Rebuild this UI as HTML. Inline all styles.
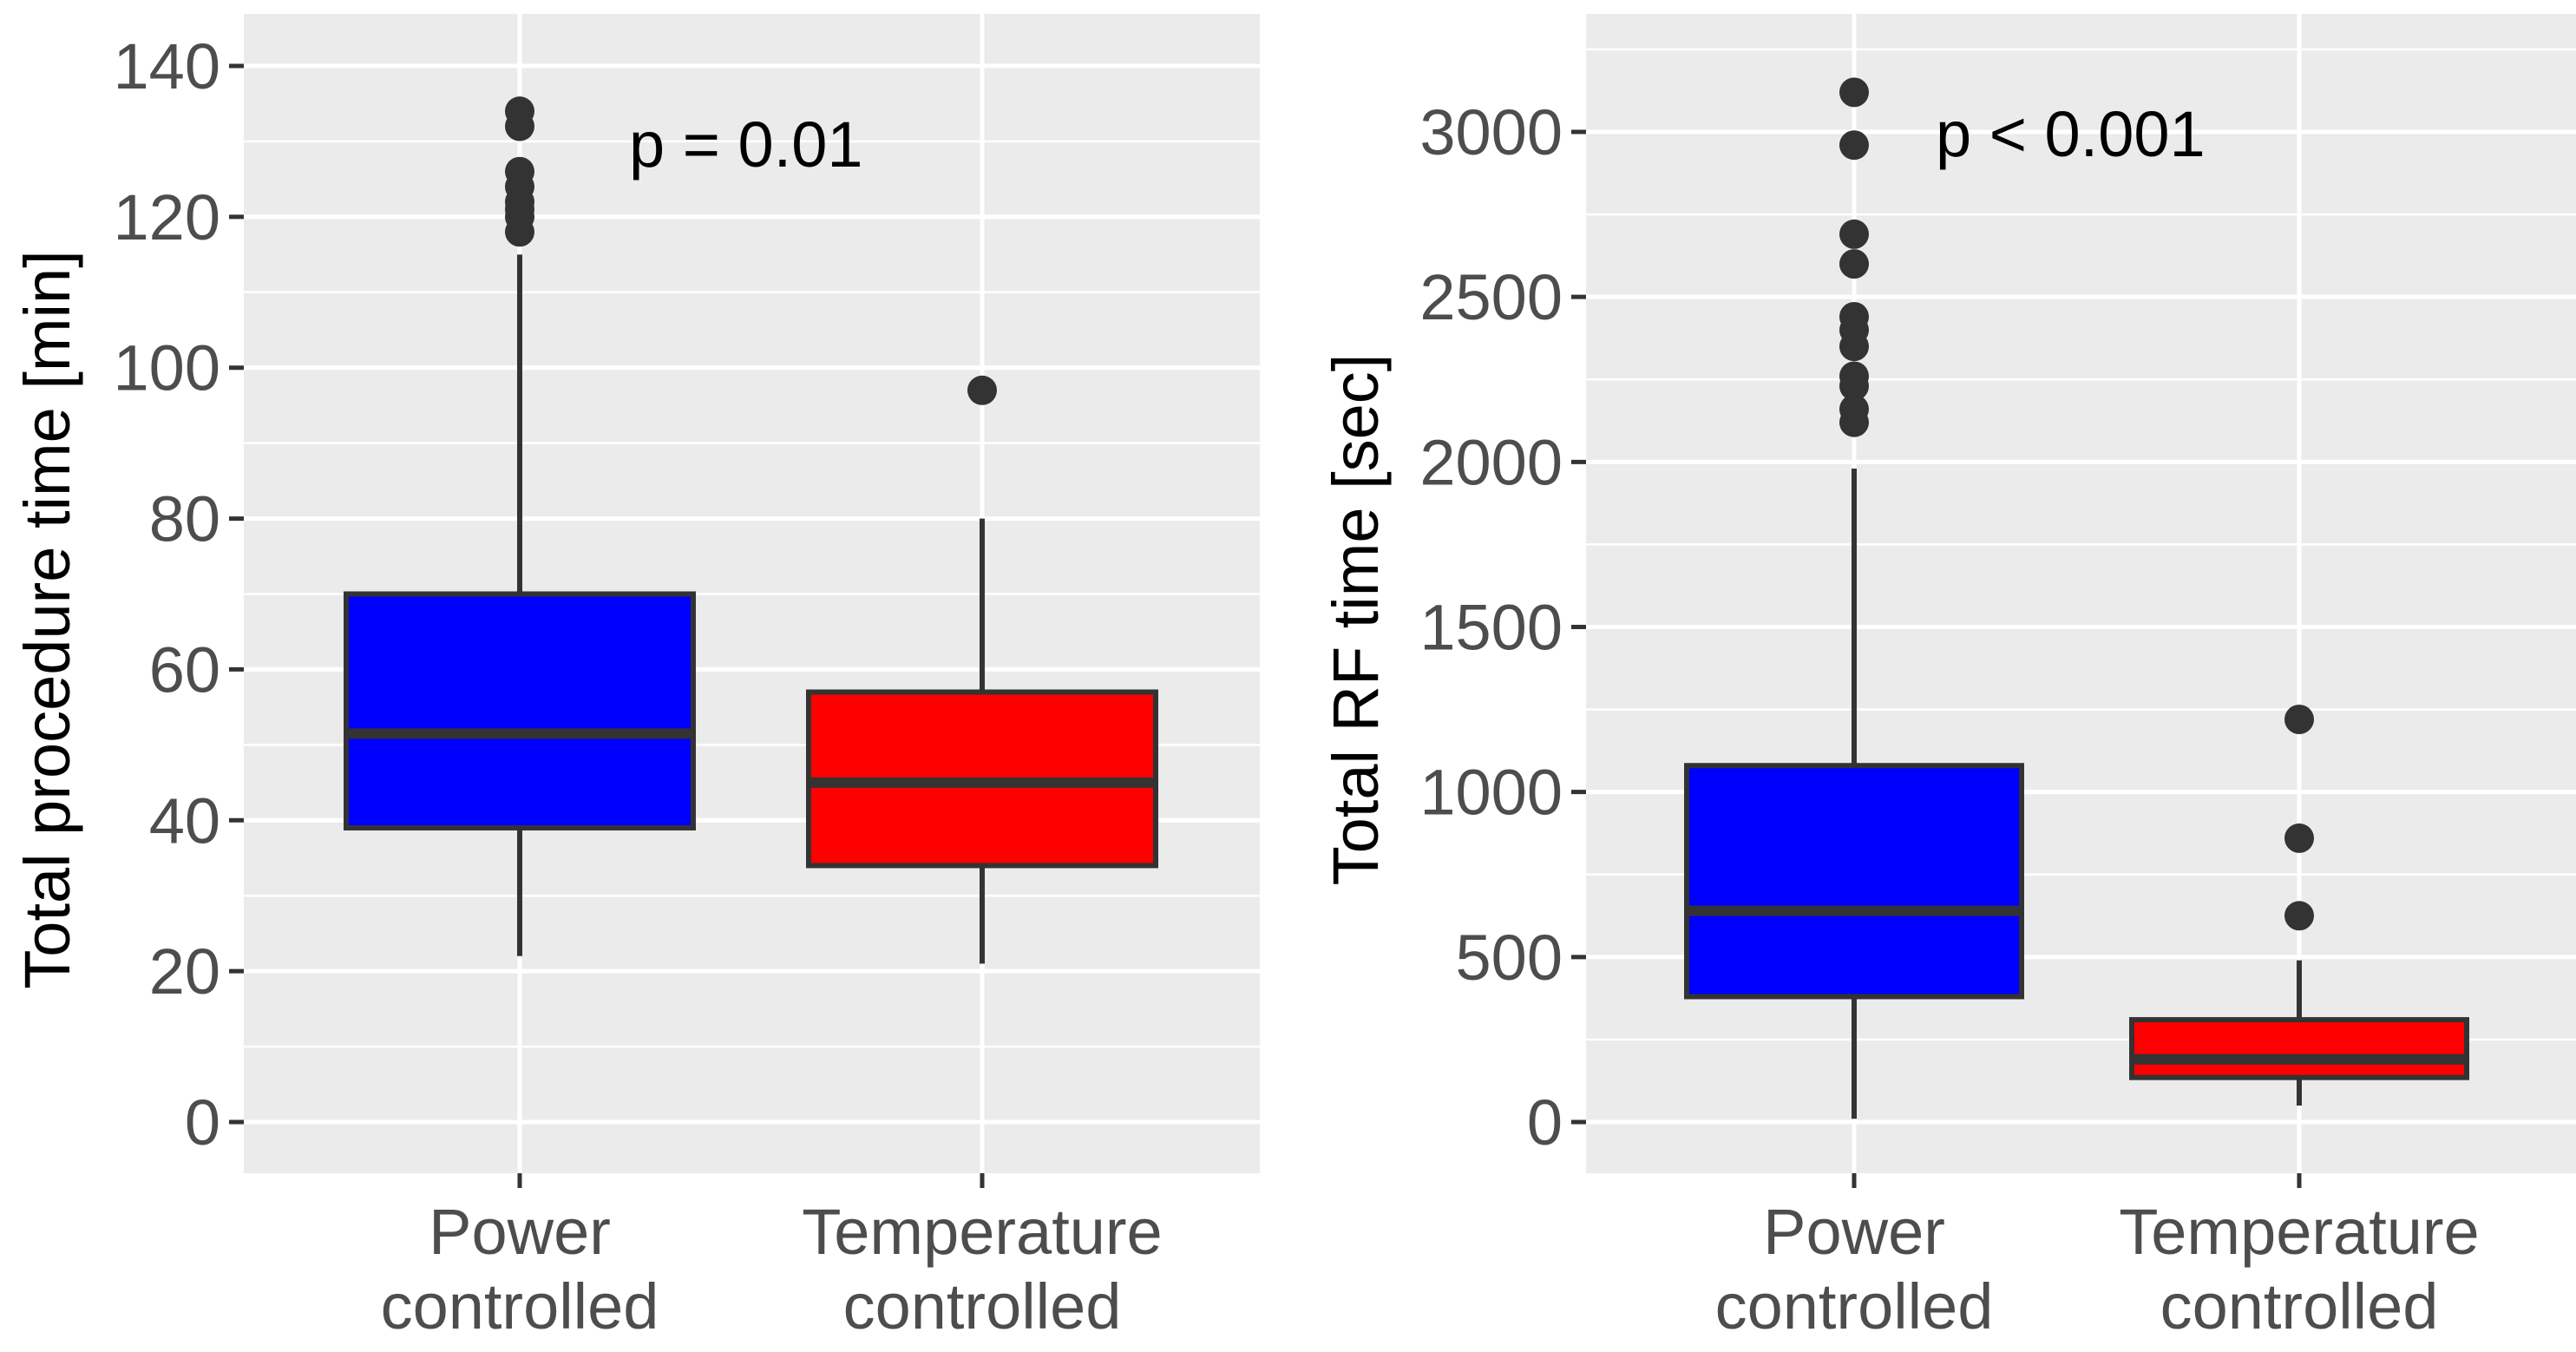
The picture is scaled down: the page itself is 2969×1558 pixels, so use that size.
<!DOCTYPE html>
<html><head><meta charset="utf-8"><style>
html,body{margin:0;padding:0;background:#fff;}
svg{display:block;font-family:"Liberation Sans",Arial,sans-serif;}
</style></head><body>
<svg id="chart" width="2969" height="1558" viewBox="0 0 2969 1558" xmlns="http://www.w3.org/2000/svg"></svg>
<script>
// ---- data ----
const categories = ["Power controlled", "Temperature controlled"];
const colors = ["#0000ff", "#ff0000"];
// left panel: procedure time [min]
const procLower = [22, 21];
const procQ1 = [39, 34];
const procMedian = [51.5, 45];
const procQ3 = [70, 57];
const procUpper = [115, 80];
const procOutPower = [118, 120, 121, 122, 124, 126, 132, 134];
const procOutTemp = [97];
const procTicks = [0, 20, 40, 60, 80, 100, 120, 140];
// right panel: RF time [sec]
const rfLower = [10, 50];
const rfQ1 = [380, 135];
const rfMedian = [640, 190];
const rfQ3 = [1080, 310];
const rfUpper = [1980, 490];
const rfOutPower = [2120, 2160, 2230, 2260, 2350, 2400, 2440, 2600, 2690, 2960, 3120];
const rfOutTemp = [625, 860, 1220];
const rfTicks = [0, 500, 1000, 1500, 2000, 2500, 3000];

const NS = "http://www.w3.org/2000/svg";
const svg = document.getElementById("chart");
function mk(tag, attrs, parent) {
  const e = document.createElementNS(NS, tag);
  for (const k in attrs) e.setAttribute(k, attrs[k]);
  (parent || svg).appendChild(e);
  return e;
}

function panel(cfg) {
  const g = mk("g", {});
  
  
  const y = v => cfg.y0 + (cfg.yTop - cfg.y0) * (v - cfg.vTop0) / (cfg.vTop - cfg.vTop0);
  const bg = mk("rect", {x: cfg.left, y: cfg.top, width: cfg.right - cfg.left, height: cfg.bottom - cfg.top, fill: "#ebebeb"}, g);
  
  
  const step = cfg.ticks[1] - cfg.ticks[0];
  for (let v = cfg.ticks[0] - step / 2; v <= cfg.ticks[cfg.ticks.length - 1] + step; v += step) {
    const yy = y(v);
    if (yy < cfg.top || yy > cfg.bottom) continue;
    const l = mk("line", {x1: cfg.left, x2: cfg.right, y1: yy, y2: yy, stroke: "#fff", "stroke-width": 2.5}, g);
    
    
  }
  cfg.ticks.forEach(v => {
    const yy = y(v);
    const l = mk("line", {x1: cfg.left, x2: cfg.right, y1: yy, y2: yy, stroke: "#fff", "stroke-width": 5}, g);
    
    
    const t = mk("line", {x1: cfg.left - 17, x2: cfg.left, y1: yy, y2: yy, stroke: "#333", "stroke-width": 5}, g);
    
    
    const lab = mk("text", {x: cfg.left - 27, y: yy + 26, "text-anchor": "end", "font-size": 74, fill: "#4d4d4d"}, g);
    lab.textContent = v;
    
    
  });
  cfg.xs.forEach((x, i) => {
    const l = mk("line", {x1: x, x2: x, y1: cfg.top, y2: cfg.bottom, stroke: "#fff", "stroke-width": 5}, g);
    
    
    const t = mk("line", {x1: x, x2: x, y1: cfg.bottom, y2: cfg.bottom + 17, stroke: "#333", "stroke-width": 5}, g);
    
    
    const words = categories[i].split(" ");
    words.forEach((w, j) => {
      const lab = mk("text", {x: x, y: 1445 + j * 86, "text-anchor": "middle", "font-size": 74, fill: "#4d4d4d"}, g);
      lab.textContent = w;
      
      
    });
  });
  cfg.xs.forEach((x, i) => {
    const bw = cfg.boxW;
    const w1 = mk("line", {x1: x, x2: x, y1: y(cfg.lower[i]), y2: y(cfg.q1[i]), stroke: "#333", "stroke-width": 6}, g);
    
    
    const w2 = mk("line", {x1: x, x2: x, y1: y(cfg.q3[i]), y2: y(cfg.upper[i]), stroke: "#333", "stroke-width": 6}, g);
    
    
    const b = mk("rect", {x: x - bw / 2, y: y(cfg.q3[i]), width: bw, height: y(cfg.q1[i]) - y(cfg.q3[i]), fill: colors[i], stroke: "#333", "stroke-width": 6}, g);
    
    
    const m = mk("line", {x1: x - bw / 2, x2: x + bw / 2, y1: y(cfg.median[i]), y2: y(cfg.median[i]), stroke: "#333", "stroke-width": 12}, g);
    
    
    cfg.outliers[i].forEach(v => {
      const c = mk("circle", {cx: x, cy: y(v), r: 17, fill: "#333"}, g);
      
      
    });
  });
  const p = mk("text", {x: cfg.pX, y: cfg.pY, "font-size": 74, fill: "#000"}, g);
  p.textContent = cfg.pText;
  
  
  const ty = (cfg.top + cfg.bottom) / 2 + 30;
  const at = mk("text", {x: cfg.titleX, y: ty, "text-anchor": "middle", "font-size": 74, fill: "#000", transform: `rotate(-90 ${cfg.titleX} ${ty})`}, g);
  at.textContent = cfg.title;
  
  
}

panel({name: "procedure-time-panel", left: 281, right: 1452, top: 16, bottom: 1352,
  y0: 1293, vTop0: 0, yTop: 76, vTop: 140, ticks: procTicks, xs: [599, 1132], boxW: 400,
  lower: procLower, q1: procQ1, median: procMedian, q3: procQ3, upper: procUpper,
  outliers: [procOutPower, procOutTemp], pText: "p = 0.01", pX: 725, pY: 192,
  title: "Total procedure time [min]", titleX: 80});
panel({name: "rf-time-panel", left: 1828, right: 2969, top: 16, bottom: 1352,
  y0: 1293, vTop0: 0, yTop: 152, vTop: 3000, ticks: rfTicks, xs: [2137, 2650], boxW: 386,
  lower: rfLower, q1: rfQ1, median: rfMedian, q3: rfQ3, upper: rfUpper,
  outliers: [rfOutPower, rfOutTemp], pText: "p < 0.001", pX: 2231, pY: 180,
  title: "Total RF time [sec]", titleX: 1588});
</script>
</body></html>
